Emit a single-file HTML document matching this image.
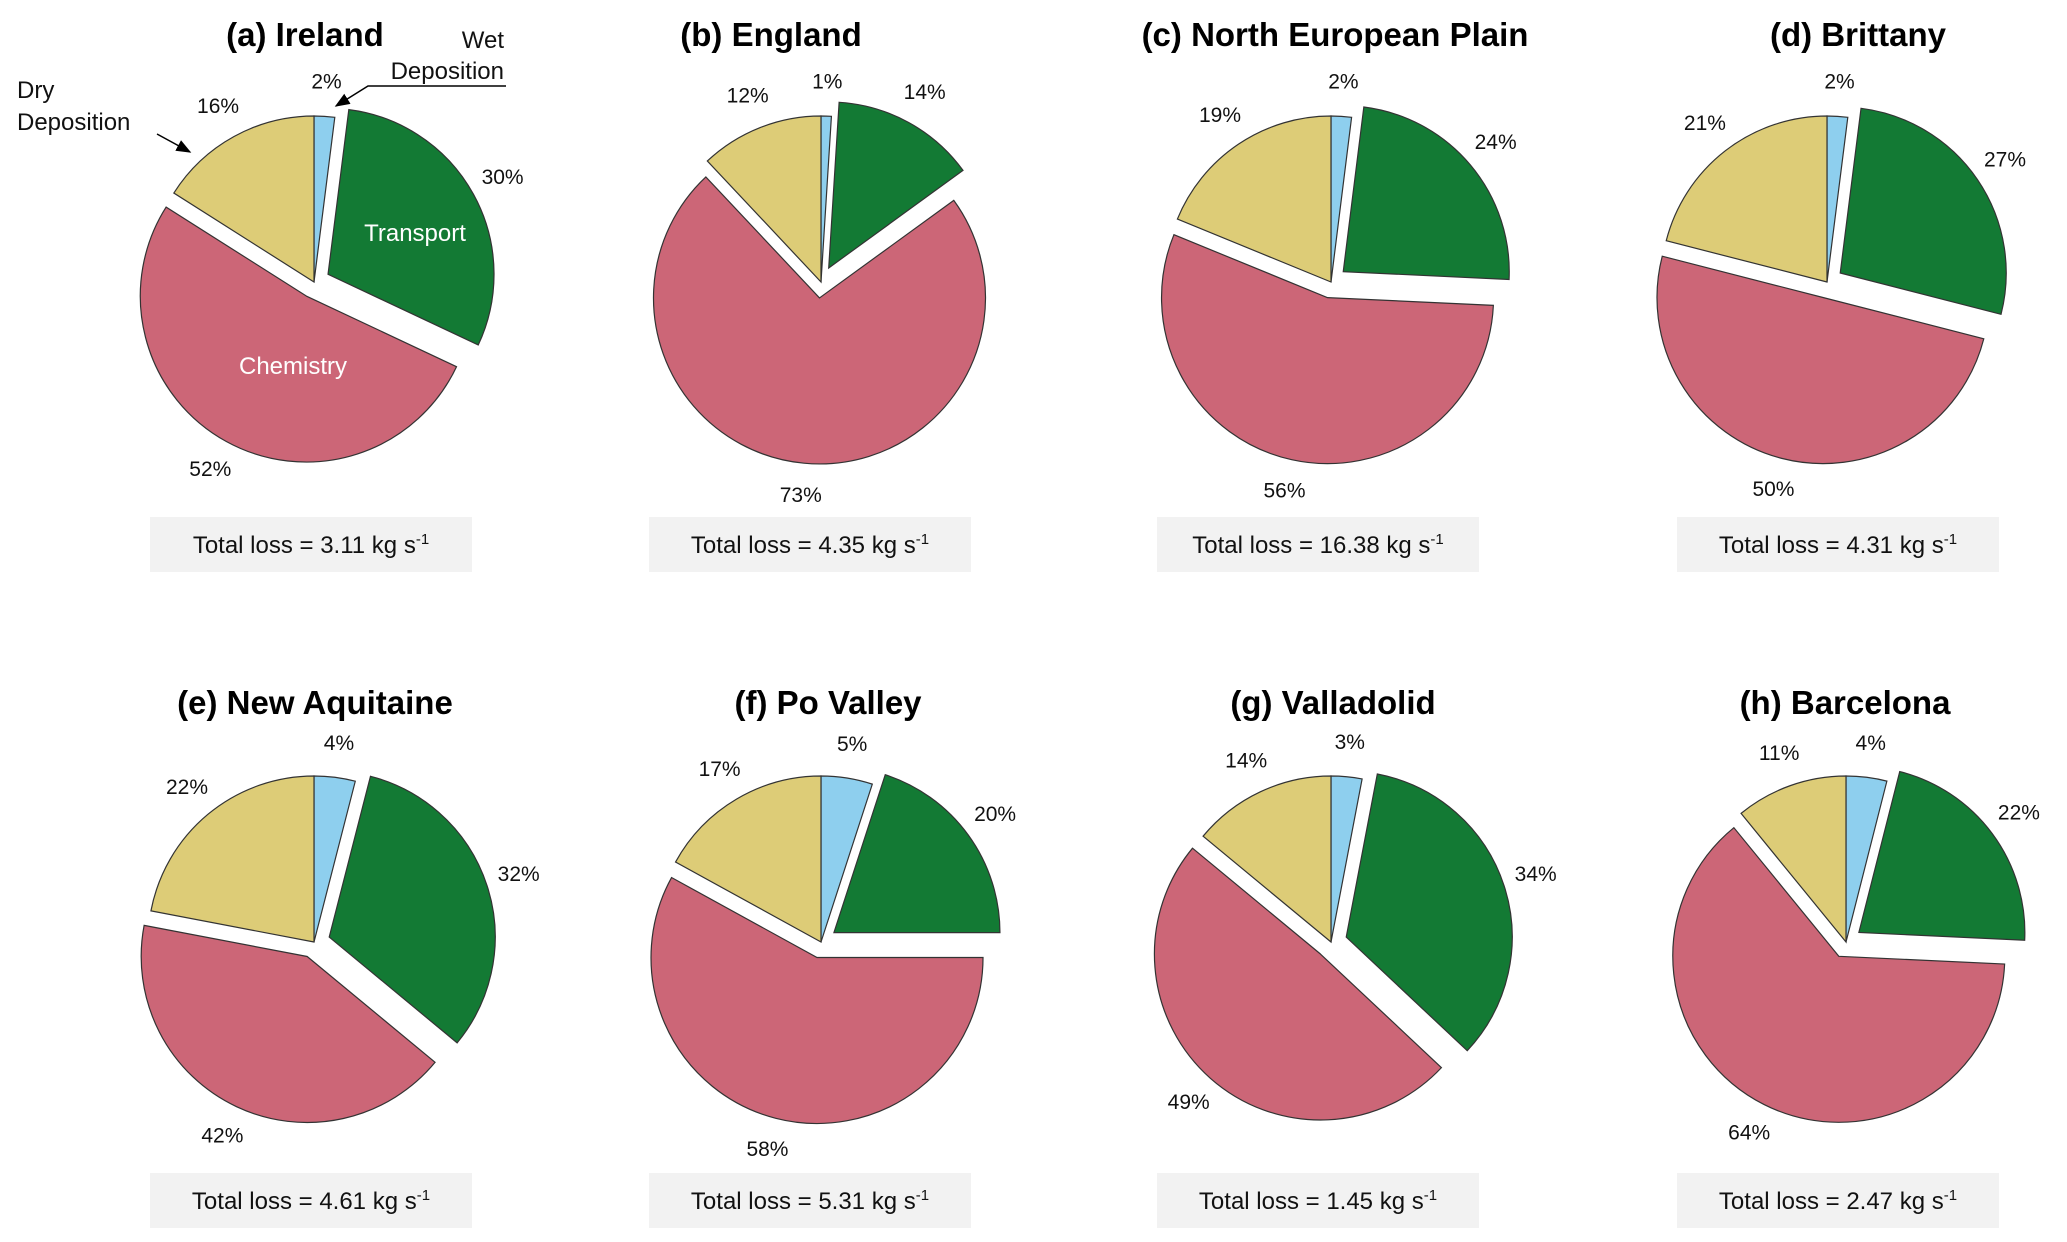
<!DOCTYPE html>
<html><head><meta charset="utf-8">
<style>
html,body{margin:0;padding:0;background:#fff;}
svg{display:block;}
text{font-family:"Liberation Sans",Arial,sans-serif;}
.title{font-weight:bold;font-size:33px;text-anchor:middle;fill:#000;}
.pct{font-size:21px;text-anchor:middle;dominant-baseline:middle;fill:#111;}
.tot{font-size:24px;text-anchor:middle;fill:#111;}
.ann{font-size:24px;fill:#111;}
.wht{font-size:24px;fill:#fff;}
</style></head>
<body>
<svg id="chart" width="2067" height="1242" viewBox="0 0 2067 1242" xmlns="http://www.w3.org/2000/svg">
<defs><marker id="arr" markerWidth="10" markerHeight="10" refX="9" refY="5" orient="auto"><path d="M0,1 L10,5 L0,9 z" fill="#000"/></marker></defs>
</svg>
<script>
// Data arrays
const regions = ["(a) Ireland","(b) England","(c) North European Plain","(d) Brittany","(e) New Aquitaine","(f) Po Valley","(g) Valladolid","(h) Barcelona"];
const wetDep = [2,1,2,2,4,5,3,4];
const transport = [30,14,24,27,32,20,34,22];
const chemistry = [52,73,56,50,42,58,49,64];
const dryDep = [16,12,19,21,22,17,14,11];
const totalLoss = ["3.11","4.35","16.38","4.31","4.61","5.31","1.45","2.47"];
const sliceNames = ["wet-deposition","transport","chemistry","dry-deposition"];
const sliceColors = ["#8ecfee","#137a34","#cc6677","#ddcc77"];
const exploded = [false,true,true,false];

// layout
const colX = [314,821,1331,1827];
const colXb = [314,821,1331,1846];
const rowY = [282,942];
const titleX = [305,771,1335,1858,315,828,1333,1845];
const titleY = [46,714];
const boxX = [150,649,1157,1677];
const boxY = [517,1173];
const R = 166, OFF = 16;
const NS = "http://www.w3.org/2000/svg";
const svg = document.getElementById('chart');
function mk(tag, attrs, parent){const e=document.createElementNS(NS,tag);for(const k in attrs)e.setAttribute(k,attrs[k]);(parent||svg).appendChild(e);return e;}

regions.forEach((name,i)=>{
  const col=i%4,row=Math.floor(i/4);
  const cx=row===0?colX[col]:colXb[col], cy=rowY[row];
  const g=mk('g',{});
  
  
  const t=mk('text',{x:titleX[i],y:titleY[row],class:'title'},g);
  t.textContent=name;
  
  
  const vals=[wetDep[i],transport[i],chemistry[i],dryDep[i]];
  const sum=vals.reduce((a,b)=>a+b,0);
  let acc=0;
  vals.forEach((v,k)=>{
    const a0=acc/sum*2*Math.PI, a1=(acc+v)/sum*2*Math.PI, am=(a0+a1)/2;
    acc+=v;
    const off=exploded[k]?OFF:0;
    const ox=cx+off*Math.sin(am), oy=cy-off*Math.cos(am);
    const x0=ox+R*Math.sin(a0), y0=oy-R*Math.cos(a0);
    const x1=ox+R*Math.sin(a1), y1=oy-R*Math.cos(a1);
    const large=(a1-a0)>Math.PI?1:0;
    const p=mk('path',{d:`M${ox},${oy} L${x0},${y0} A${R},${R} 0 ${large} 1 ${x1},${y1} Z`,fill:sliceColors[k],stroke:'#333','stroke-width':1.2},g);
    
    
    const lr=R*1.2;
    const lb=mk('text',{x:ox+lr*Math.sin(am),y:oy-lr*Math.cos(am),class:'pct'},g);
    lb.textContent=v+'%';
    
    
  });
  const bx=boxX[col], by=boxY[row];
  const r=mk('rect',{x:bx,y:by,width:322,height:55,fill:'#f2f2f2'},g);
  
  
  const tt=mk('text',{x:bx+161,y:by+36,class:'tot'},g);
  tt.innerHTML='Total loss = '+totalLoss[i]+' kg s<tspan dy="-9" font-size="15">-1</tspan>';
  
  
});

// Annotations panel (a)
const ann=mk('g',{});


const d1=mk('text',{x:17,y:98,class:'ann'},ann);d1.textContent='Dry';
const d2=mk('text',{x:17,y:130,class:'ann'},ann);d2.textContent='Deposition';


const w1=mk('text',{x:504,y:48,class:'ann','text-anchor':'end'},ann);w1.textContent='Wet';
const w2=mk('text',{x:504,y:79,class:'ann','text-anchor':'end'},ann);w2.textContent='Deposition';


const l1=mk('path',{d:'M157,134 L190,152',stroke:'#000','stroke-width':1.5,fill:'none','marker-end':'url(#arr)'},ann);

const l2=mk('path',{d:'M506,86 L368,86 L336,106',stroke:'#000','stroke-width':1.5,fill:'none','marker-end':'url(#arr)'},ann);

const tr=mk('text',{x:415,y:241,class:'wht','text-anchor':'middle'},ann);tr.textContent='Transport';

const ch=mk('text',{x:293,y:374,class:'wht','text-anchor':'middle'},ann);ch.textContent='Chemistry';

</script>
</body></html>
